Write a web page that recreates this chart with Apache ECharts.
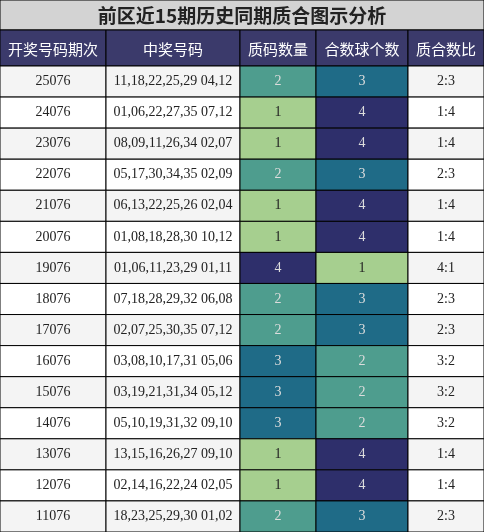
<!DOCTYPE html><html><head><meta charset="utf-8">
<script src="https://cdn.jsdelivr.net/npm/echarts@6/dist/echarts.min.js"></script>
<style>html,body{margin:0;padding:0;background:#fff}#c{width:484px;height:532px}</style></head><body><div id="c"></div>
<script>
const periods=["25076","24076","23076","22076","21076","20076","19076","18076","17076","16076","15076","14076","13076","12076","11076"];
const numbers=["11,18,22,25,29 04,12","01,06,22,27,35 07,12","08,09,11,26,34 02,07","05,17,30,34,35 02,09","06,13,22,25,26 02,04","01,08,18,28,30 10,12","01,06,11,23,29 01,11","07,18,28,29,32 06,08","02,07,25,30,35 07,12","03,08,10,17,31 05,06","03,19,21,31,34 05,12","05,10,19,31,32 09,10","13,15,16,26,27 09,10","02,14,16,22,24 02,05","18,23,25,29,30 01,02"];
const primeCount=[2,1,1,2,1,1,4,2,2,3,3,3,1,1,2];
const compositeCount=[3,4,4,3,4,4,1,3,3,2,2,2,4,4,3];
const ratios=["2:3","1:4","1:4","2:3","1:4","1:4","4:1","2:3","2:3","3:2","3:2","3:2","1:4","1:4","2:3"];
const headers=["开奖号码期次","中奖号码","质码数量","合数球个数","质合数比"];
const title="前区近15期历史同期质合图示分析";
const edges=[0,106,240,316,408,484];
const colorMap={1:"#a6cf8f",2:"#4e9d8e",3:"#1f6b87",4:"#2e2f6b"};
const serif="'Liberation Serif','DejaVu Serif',serif";
const cjk="'Noto Sans CJK SC',sans-serif";
const chart=echarts.init(document.getElementById('c'));
const data=periods.map((p,i)=>[i]);
chart.setOption({
 animation:false,
 grid:{left:0,right:0,top:66,bottom:0},
 xAxis:{type:'value',min:0,max:484,show:false},
 yAxis:{type:'category',data:periods,inverse:true,show:false},
 graphic:[
  {type:'rect',shape:{x:0,y:0,width:484,height:30},style:{fill:'#d3d3d3',stroke:'#000',lineWidth:1}},
  {type:'text',x:242,y:16,style:{text:title,font:"bold 19px "+cjk,fill:'#222',align:'center',verticalAlign:'middle'}},
  ...headers.map((h,k)=>({type:'group',children:[
   {type:'rect',shape:{x:edges[k],y:30,width:edges[k+1]-edges[k],height:36},style:{fill:'#3b3a6b',stroke:'#000',lineWidth:1}},
   {type:'text',x:(edges[k]+edges[k+1])/2,y:49,style:{text:h,font:"15px "+cjk,fill:'#fff',align:'center',verticalAlign:'middle'}}]}))
 ],
 series:[{type:'custom',data:data,encode:{y:0},renderItem:function(params,api){
  const i=api.value(0);
  const c=api.coord([0,i]);const h=api.size([0,1])[1];
  const y0=c[1]-h/2;
  const cells=[
   {t:periods[i],bg:i%2===0?'#f4f4f4':'#fff',fg:'#222'},
   {t:numbers[i],bg:i%2===0?'#f4f4f4':'#fff',fg:'#222'},
   {t:String(primeCount[i]),bg:colorMap[primeCount[i]],fg:primeCount[i]===1?'#222':'#ddd'},
   {t:String(compositeCount[i]),bg:colorMap[compositeCount[i]],fg:compositeCount[i]===1?'#222':'#ddd'},
   {t:ratios[i],bg:i%2===0?'#f4f4f4':'#fff',fg:'#222'}];
  const ch=[];
  cells.forEach((cl,k)=>{
   const x0=api.coord([edges[k],i])[0],x1=api.coord([edges[k+1],i])[0];
   ch.push({type:'rect',shape:{x:x0,y:y0,width:x1-x0,height:h},style:{fill:cl.bg,stroke:'#000',lineWidth:1}});
   ch.push({type:'text',x:(x0+x1)/2,y:y0+h/2,style:{text:cl.t,font:"14px "+serif,fill:cl.fg,align:'center',verticalAlign:'middle'}});
  });
  return {type:'group',children:ch};
 }}]
});
</script></body></html>
